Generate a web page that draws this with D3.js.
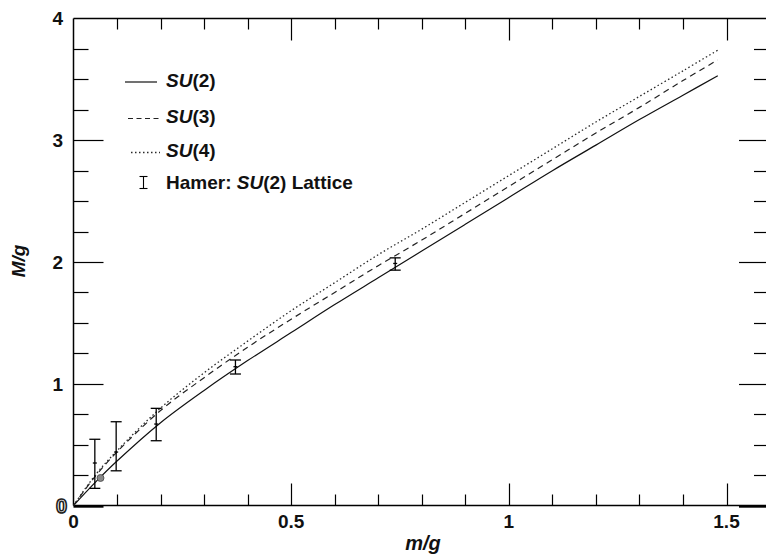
<!DOCTYPE html>
<html>
<head>
<meta charset="utf-8">
<script src="https://cdn.jsdelivr.net/npm/d3@7"></script>
<style>
  html, body { margin: 0; padding: 0; background: #fff; }
  svg { display: block; font-family: "Liberation Sans", Arial, Helvetica, sans-serif; }
</style>
</head>
<body>
<svg id="chart" width="766" height="556"></svg>
<script>
// ---- data ----
const mGrid = [0, 0.05, 0.1, 0.2, 0.3, 0.4, 0.5, 0.6, 0.7, 0.8, 0.9, 1.0, 1.1, 1.2, 1.3, 1.4, 1.48];
const su2 = [0, 0.19, 0.365, 0.68, 0.945, 1.19, 1.42, 1.65, 1.87, 2.09, 2.31, 2.53, 2.75, 2.96, 3.17, 3.37, 3.53];
const su3 = [0, 0.24, 0.44, 0.78, 1.05, 1.30, 1.53, 1.75, 1.97, 2.18, 2.40, 2.62, 2.84, 3.06, 3.27, 3.49, 3.66];
const su4 = [0, 0.25, 0.45, 0.80, 1.09, 1.35, 1.60, 1.83, 2.06, 2.27, 2.49, 2.71, 2.93, 3.15, 3.36, 3.57, 3.74];

const latticeM   = [0.049, 0.098, 0.190, 0.372, 0.739];
const latticeVal = [0.349, 0.439, 0.669, 1.140, 1.988];
const latticeLo  = [0.141, 0.285, 0.532, 1.080, 1.933];
const latticeHi  = [0.544, 0.688, 0.798, 1.195, 2.034];

const dotM = [0.062];
const dotVal = [0.226];

const xTickLabels = ["0", "0.5", "1", "1.5"];
const xTickValues = [0, 0.5, 1, 1.5];
const yTickLabels = ["0", "1", "2", "3", "4"];
const yTickValues = [0, 1, 2, 3, 4];

const legendLabels = [["SU", "(2)", ""], ["SU", "(3)", ""], ["SU", "(4)", ""], ["Hamer: ", "SU", "(2) Lattice"]];

// ---- layout ----
const svg = d3.select("#chart");
const x = d3.scaleLinear().domain([0, 1.5]).range([73.5, 726.5]);
const y = d3.scaleLinear().domain([0, 4]).range([505.5, 18.5]);
const xRight = 767;
const ink = "#000";

const g = svg.append("g");
const axesG = g.append("g");

// frame lines
axesG.append("line").attr("x1", x(0)).attr("x2", x(0)).attr("y1", y(4)).attr("y2", y(0)).attr("stroke", ink).attr("stroke-width", 1.5);
axesG.append("line").attr("x1", x(0)).attr("x2", 766).attr("y1", y(4)).attr("y2", y(4)).attr("stroke", ink).attr("stroke-width", 1.5);
axesG.append("line").attr("x1", x(0)).attr("x2", 766).attr("y1", y(0)).attr("y2", y(0)).attr("stroke", ink).attr("stroke-width", 1.5);

// x ticks (bottom and top)
const xTicks = d3.range(0, 17).map(i => +(i * 0.1).toFixed(1)).filter(v => v > 0);
const isMajorX = v => Math.abs(v * 2 - Math.round(v * 2)) < 1e-6;
axesG.selectAll(".xb").data(xTicks).enter().append("line")
  .attr("x1", d => Math.round(x(d)) + 0.5).attr("x2", d => Math.round(x(d)) + 0.5)
  .attr("y1", y(0)).attr("y2", d => y(0) - (isMajorX(d) ? 22 : 11))
  .attr("stroke", ink).attr("stroke-width", 1.2);
axesG.selectAll(".xt").data(xTicks).enter().append("line")
  .attr("x1", d => Math.round(x(d)) + 0.5).attr("x2", d => Math.round(x(d)) + 0.5)
  .attr("y1", y(4)).attr("y2", d => y(4) + (isMajorX(d) ? 22 : 11))
  .attr("stroke", ink).attr("stroke-width", 1.2);

// y ticks (left and right)
const yTicks = d3.range(0, 17).map(i => i * 0.25).filter(v => v < 4);
const isMajorY = v => Math.abs(v - Math.round(v)) < 1e-6;
axesG.selectAll(".yl").data(yTicks).enter().append("line")
  .attr("x1", x(0)).attr("x2", d => x(0) + (isMajorY(d) ? 30 : 15))
  .attr("y1", d => Math.round(y(d)) + 0.5).attr("y2", d => Math.round(y(d)) + 0.5)
  .attr("stroke", ink).attr("stroke-width", d => d === 0 ? 2.4 : 1.2);
axesG.selectAll(".yr").data(yTicks).enter().append("line")
  .attr("x1", xRight).attr("x2", d => xRight - (isMajorY(d) ? 28 : 13))
  .attr("y1", d => Math.round(y(d)) + 0.5).attr("y2", d => Math.round(y(d)) + 0.5)
  .attr("stroke", ink).attr("stroke-width", d => d === 0 ? 2.4 : 1.2);

// tick labels
g.selectAll(".xl").data(xTickValues).enter().append("text")
  .attr("x", d => x(d)).attr("y", 528)
  .attr("text-anchor", "middle").attr("font-size", 19).attr("font-weight", "bold").attr("fill", "#111")
  .text((d, i) => xTickLabels[i]);
g.selectAll(".ylab").data(yTickValues).enter().append("text")
  .attr("x", d => d === 0 ? 67 : 63).attr("y", d => y(d))
  .attr("dy", "0.36em")
  .attr("text-anchor", "end").attr("font-size", d => d === 0 ? 20 : 19).attr("font-weight", "bold")
  .attr("fill", d => d === 0 ? "#fff" : "#111")
  .attr("stroke", d => d === 0 ? "#222" : "none")
  .attr("stroke-width", d => d === 0 ? 1.6 : 0)
  .text((d, i) => yTickLabels[i]);

// axis titles
svg.append("text").attr("x", 423).attr("y", 550).attr("text-anchor", "middle")
  .attr("font-size", 20).attr("font-weight", "bold").attr("font-style", "italic").attr("fill", "#111").text("m/g");
svg.append("text").attr("transform", "translate(25,261) rotate(-90)").attr("text-anchor", "middle")
  .attr("font-size", 19).attr("font-weight", "bold").attr("font-style", "italic").attr("fill", "#111").text("M/g");

// curves
const line = d3.line().x(d => x(d[0])).y(d => y(d[1])).curve(d3.curveCatmullRom.alpha(0.5));
const series = [
  { vals: su2, dash: null, w: 1.2, color: "#111" },
  { vals: su3, dash: "6,4.5", w: 1.2, color: "#222" },
  { vals: su4, dash: "1.5,2.5", w: 1.3, color: "#2a2a2a" }
];
series.forEach(s => {
  g.append("path").datum(mGrid.map((m, i) => [m, s.vals[i]]))
    .attr("d", line).attr("fill", "none").attr("stroke", s.color)
    .attr("stroke-width", s.w).attr("stroke-dasharray", s.dash);
});

// lattice error bars
const eb = g.selectAll(".eb").data(latticeM.map((m, i) => ({ m, v: latticeVal[i], lo: latticeLo[i], hi: latticeHi[i] })))
  .enter().append("g");
eb.append("line").attr("x1", d => x(d.m)).attr("x2", d => x(d.m)).attr("y1", d => y(d.lo)).attr("y2", d => y(d.hi)).attr("stroke", ink).attr("stroke-width", 1.3);
eb.append("line").attr("x1", d => x(d.m) - 5.5).attr("x2", d => x(d.m) + 5.5).attr("y1", d => y(d.lo)).attr("y2", d => y(d.lo)).attr("stroke", ink).attr("stroke-width", 1.3);
eb.append("line").attr("x1", d => x(d.m) - 5.5).attr("x2", d => x(d.m) + 5.5).attr("y1", d => y(d.hi)).attr("y2", d => y(d.hi)).attr("stroke", ink).attr("stroke-width", 1.3);
eb.append("line").attr("x1", d => x(d.m) - 2).attr("x2", d => x(d.m) + 2).attr("y1", d => y(d.v)).attr("y2", d => y(d.v)).attr("stroke", ink).attr("stroke-width", 1.3);

// gray point
g.selectAll(".dot").data(dotM).enter().append("circle")
  .attr("cx", d => x(d)).attr("cy", (d, i) => y(dotVal[i])).attr("r", 3.5)
  .attr("fill", "#888").attr("stroke", "#444").attr("stroke-width", 0.8);

// legend
const legY = [80, 116.5, 150.5, 182];
const legLine = [[125, 157], [128, 159], [131, 160]];
[0, 1, 2].forEach(i => {
  svg.append("line").attr("x1", legLine[i][0]).attr("x2", legLine[i][1])
    .attr("y1", legY[i] + 2).attr("y2", legY[i] + 2)
    .attr("stroke", series[i].color).attr("stroke-width", series[i].w)
    .attr("stroke-dasharray", i === 1 ? "5,3.5" : series[i].dash);
});
// legend error-bar symbol
const legEb = svg.append("g");
legEb.append("line").attr("x1", 143.5).attr("x2", 143.5).attr("y1", 176.5).attr("y2", 188.5).attr("stroke", ink).attr("stroke-width", 1.1);
legEb.append("line").attr("x1", 139.5).attr("x2", 147.5).attr("y1", 176.5).attr("y2", 176.5).attr("stroke", ink).attr("stroke-width", 1.1);
legEb.append("line").attr("x1", 139.5).attr("x2", 147.5).attr("y1", 188.5).attr("y2", 188.5).attr("stroke", ink).attr("stroke-width", 1.1);

legendLabels.forEach((parts, i) => {
  const t = svg.append("text").attr("x", 166).attr("y", legY[i]).attr("dy", "0.36em")
    .attr("font-size", 19).attr("font-weight", "bold").attr("fill", "#111");
  if (i < 3) {
    t.append("tspan").attr("font-style", "italic").text(parts[0]);
    t.append("tspan").text(parts[1]);
  } else {
    t.append("tspan").text(parts[0]);
    t.append("tspan").attr("font-style", "italic").text(parts[1]);
    t.append("tspan").text(parts[2]);
  }
});
</script>
</body>
</html>
